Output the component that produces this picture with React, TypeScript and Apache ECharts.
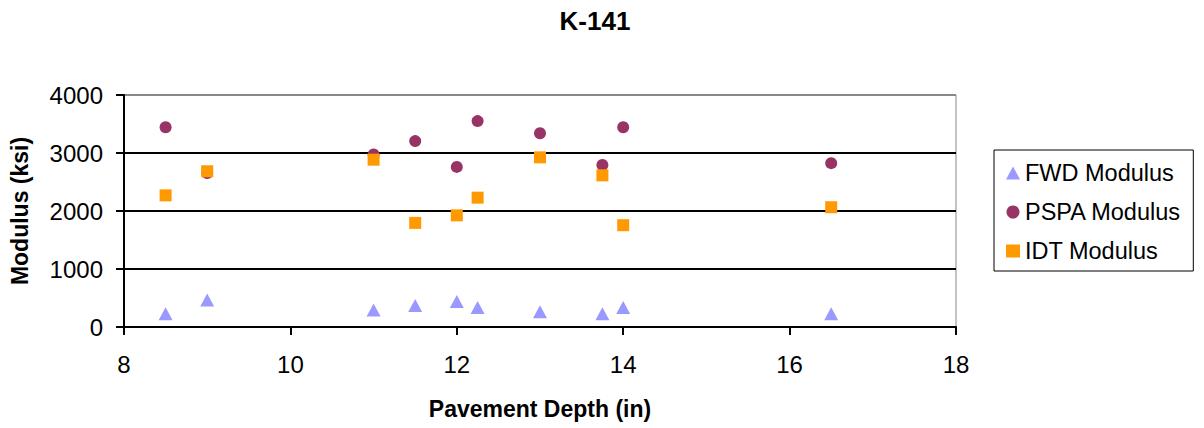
import React, { useEffect, useRef } from "react";
import * as echarts from "echarts";

const depth = [8.5, 9.0, 11.0, 11.5, 12.0, 12.25, 13.0, 13.75, 14.0, 16.5];
const fwdModulus = [230, 465, 295, 370, 440, 335, 265, 230, 335, 230];
const pspaModulus = [3445, 2655, 2975, 3205, 2760, 3550, 3340, 2795, 3445, 2825];
const idtModulus = [2270, 2685, 2885, 1795, 1925, 2230, 2925, 2615, 1755, 2065];
const seriesNames = ["FWD Modulus", "PSPA Modulus", "IDT Modulus"];

const pairs = (ys: number[]) => depth.map((x, i) => [x, ys[i]]);

export default function App() {
  const ref = useRef<HTMLDivElement>(null);
  useEffect(() => {
    if (!ref.current) return;
    const chart = echarts.init(ref.current, undefined, { renderer: "svg" });
    const font = "Liberation Sans, Arial, sans-serif";
    chart.setOption({
      animation: false,
      backgroundColor: "#fff",
      textStyle: { fontFamily: font },
      title: {
        text: "K-141",
        left: 590,
        top: 3,
        textAlign: "center",
        textStyle: { fontFamily: font, fontSize: 26, fontWeight: "bold", color: "#000" },
      },
      grid: {
        left: 124,
        top: 95,
        right: 248,
        bottom: 101,
        show: true,
        borderColor: "#888",
        borderWidth: 1,
        backgroundColor: "transparent",
      },
      legend: {
        orient: "vertical",
        left: 994,
        top: 150,
        padding: [11, 12, 8, 12],
        itemWidth: 14,
        itemHeight: 13,
        itemGap: 15,
        borderColor: "#000",
        borderWidth: 1,
        textStyle: { fontFamily: font, fontSize: 23.5, color: "#000", lineHeight: 24 },
        data: [
          { name: seriesNames[0], icon: "triangle" },
          { name: seriesNames[1], icon: "circle" },
          { name: seriesNames[2], icon: "rect" },
        ],
      },
      xAxis: {
        type: "value",
        min: 8,
        max: 18,
        interval: 2,
        name: "Pavement Depth (in)",
        nameLocation: "middle",
        nameGap: 70,
        nameTextStyle: { fontFamily: font, fontSize: 23, fontWeight: "bold", color: "#000" },
        axisLine: { show: true, onZero: false, lineStyle: { color: "#000", width: 2 } },
        axisTick: { show: true, inside: false, length: 8, lineStyle: { color: "#000", width: 2 } },
        axisLabel: { fontFamily: font, fontSize: 24, color: "#000", margin: 25 },
        splitLine: { show: false },
      },
      yAxis: {
        type: "value",
        min: 0,
        max: 4000,
        interval: 1000,
        name: "Modulus (ksi)",
        nameLocation: "middle",
        nameGap: 93,
        nameTextStyle: { fontFamily: font, fontSize: 23, fontWeight: "bold", color: "#000" },
        axisLine: { show: true, lineStyle: { color: "#000", width: 2 } },
        axisTick: { show: true, inside: false, length: 8, lineStyle: { color: "#000", width: 2 } },
        axisLabel: {
          fontFamily: font,
          fontSize: 24,
          color: "#000",
          margin: 21,
          formatter: (v: number) => String(v),
        },
        splitLine: {
          show: true,
          lineStyle: { color: ["#000", "#000", "#000", "#000", "#888"], width: 2 },
        },
      },
      series: [
        {
          name: seriesNames[0],
          type: "scatter",
          symbol: "triangle",
          symbolSize: [14, 13],
          itemStyle: { color: "#9999FF", opacity: 1 },
          data: pairs(fwdModulus),
          z: 3,
        },
        {
          name: seriesNames[1],
          type: "scatter",
          symbol: "circle",
          symbolSize: 12,
          itemStyle: { color: "#993366", opacity: 1 },
          data: pairs(pspaModulus),
          z: 2,
        },
        {
          name: seriesNames[2],
          type: "scatter",
          symbol: "rect",
          symbolSize: 12,
          itemStyle: { color: "#FF9900", opacity: 1 },
          data: pairs(idtModulus),
          z: 4,
        },
      ],
    });
    return () => chart.dispose();
  }, []);
  return <div ref={ref} style={{ width: 1204, height: 428, position: "absolute", left: 0, top: 0 }} />;
}
